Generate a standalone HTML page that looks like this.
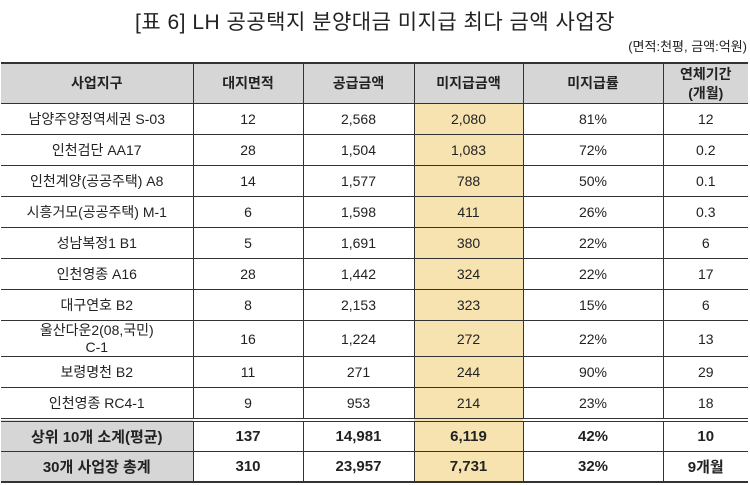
<!DOCTYPE html>
<html><head><meta charset="utf-8"><style>
body{margin:0;width:750px;height:485px;background:#fff;overflow:hidden;font-family:"Liberation Sans","Noto Sans CJK KR",sans-serif;color:#222}
.title{position:absolute;left:0;width:750px;top:6px;text-align:center;font-size:21px;letter-spacing:0.5px}
.unit{position:absolute;right:3px;top:36px;font-size:13px}
table{position:absolute;left:1px;top:62px;border-collapse:collapse;table-layout:fixed;width:747px}
td{border:1.5px solid #333;text-align:center;font-size:14px;padding:0;height:30px}
tr.h td{background:#d6d6d6;font-weight:bold;height:39px;font-size:14px;line-height:19px}
td.y{background:#f7e3b0}
tr.s td{font-weight:bold;font-size:15px;height:29px}
tr.s td.g{background:#d6d6d6}
tr.s1 td{border-top:4px double #333}
table{border-top:2.5px solid #333;border-bottom:2px solid #333}
tr td:first-child{border-left:none}
tr td:last-child{border-right:none}
</style></head><body>
<div class="title">[표 6] LH 공공택지 분양대금 미지급 최다 금액 사업장</div>
<div class="unit">(면적:천평, 금액:억원)</div>
<table>
<colgroup><col style="width:192px"><col style="width:110px"><col style="width:111px"><col style="width:109px"><col style="width:140px"><col style="width:85px"></colgroup>
<tr class="h"><td>사업지구</td><td>대지면적</td><td>공급금액</td><td class="y" style="background:#d6d6d6">미지급금액</td><td>미지급률</td><td>연체기간<br>(개월)</td></tr>
<tr><td>남양주양정역세권 S-03</td><td>12</td><td>2,568</td><td class="y">2,080</td><td>81%</td><td>12</td></tr>
<tr><td>인천검단 AA17</td><td>28</td><td>1,504</td><td class="y">1,083</td><td>72%</td><td>0.2</td></tr>
<tr><td>인천계양(공공주택) A8</td><td>14</td><td>1,577</td><td class="y">788</td><td>50%</td><td>0.1</td></tr>
<tr><td>시흥거모(공공주택) M-1</td><td>6</td><td>1,598</td><td class="y">411</td><td>26%</td><td>0.3</td></tr>
<tr><td>성남복정1 B1</td><td>5</td><td>1,691</td><td class="y">380</td><td>22%</td><td>6</td></tr>
<tr><td>인천영종 A16</td><td>28</td><td>1,442</td><td class="y">324</td><td>22%</td><td>17</td></tr>
<tr><td>대구연호 B2</td><td>8</td><td>2,153</td><td class="y">323</td><td>15%</td><td>6</td></tr>
<tr><td style="height:35px;line-height:17px">울산다운2(08,국민)<br>C-1</td><td>16</td><td>1,224</td><td class="y">272</td><td>22%</td><td>13</td></tr>
<tr><td>보령명천 B2</td><td>11</td><td>271</td><td class="y">244</td><td>90%</td><td>29</td></tr>
<tr><td>인천영종 RC4-1</td><td>9</td><td>953</td><td class="y">214</td><td>23%</td><td>18</td></tr>
<tr class="s s1"><td class="g">상위 10개 소계(평균)</td><td>137</td><td>14,981</td><td class="y">6,119</td><td>42%</td><td>10</td></tr>
<tr class="s"><td class="g">30개 사업장 총계</td><td>310</td><td>23,957</td><td class="y">7,731</td><td>32%</td><td>9개월</td></tr>
</table>
</body></html>
